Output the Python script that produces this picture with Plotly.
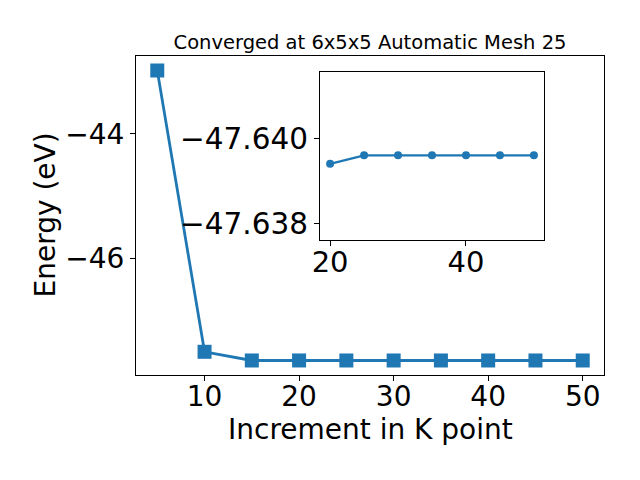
import plotly.graph_objects as go

kpoints = [5, 10, 15, 20, 25, 30, 35, 40, 45, 50]
energy = [-42.98, -47.50, -47.6396, -47.6394, -47.6396, -47.6396, -47.6396, -47.6396, -47.6396, -47.6396]

inset_k = kpoints[3:]
inset_e = energy[3:]

title_text = "Converged at 6x5x5 Automatic Mesh 25"
xlabel = "Increment in K point"
ylabel = "Energy (eV)"

blue = "#1f77b4"
font = "DejaVu Sans"

fig = go.Figure()
fig.add_trace(go.Scatter(x=kpoints, y=energy, mode="lines+markers",
                         line=dict(color=blue, width=2.8),
                         marker=dict(symbol="square", size=14, color=blue),
                         xaxis="x", yaxis="y", showlegend=False))
fig.add_trace(go.Scatter(x=inset_k, y=inset_e, mode="lines+markers",
                         line=dict(color=blue, width=2.2),
                         marker=dict(symbol="circle", size=8, color=blue),
                         xaxis="x2", yaxis="y2", showlegend=False))

axis_common = dict(showgrid=False, zeroline=False, showline=True, linecolor="black",
                   linewidth=1, mirror=True, ticks="outside", ticklen=5, tickwidth=1,
                   tickcolor="black", automargin=False,
                   tickfont=dict(family=font, size=28, color="black"))

fig.update_layout(
    width=640, height=480,
    margin=dict(l=128, r=44, t=48, b=113),
    plot_bgcolor="white", paper_bgcolor="white",
    font=dict(family=font, color="black"),
    title=dict(text=title_text, x=362 / 640, xanchor="center", y=1 - 34 / 480, yanchor="middle",
               automargin=False,
               font=dict(family=font, size=19.5, color="black")),
    xaxis=dict(axis_common, domain=[0, 1], range=[2.75, 52.25],
               tickvals=[10, 20, 30, 40, 50], ticklabelstandoff=-9),
    yaxis=dict(axis_common, domain=[0, 1], range=[-47.873, -42.747],
               tickvals=[-46, -44]),
    xaxis2=dict(axis_common, domain=[0.393, 0.872], anchor="y2",
                range=[18.5, 51.5], tickvals=[20, 40], ticklabelstandoff=-9,
                tickfont=dict(family=font, size=29, color="black")),
    yaxis2=dict(axis_common, domain=[0.423, 0.950], anchor="x2",
                range=[-47.637604, -47.641566], tickvals=[-47.640, -47.638],
                tickformat=".3f", tickfont=dict(family=font, size=29.5, color="black")),
    annotations=[
        dict(text=xlabel, xref="paper", yref="paper", x=0.5, y=-0.1724,
             xanchor="center", yanchor="middle", showarrow=False,
             font=dict(family=font, size=28, color="black")),
        dict(text=ylabel, xref="paper", yref="paper", x=-0.1944, y=0.5,
             xanchor="center", yanchor="middle", showarrow=False, textangle=-90,
             font=dict(family=font, size=28, color="black")),
    ],
)

fig.write_html("out.html")
